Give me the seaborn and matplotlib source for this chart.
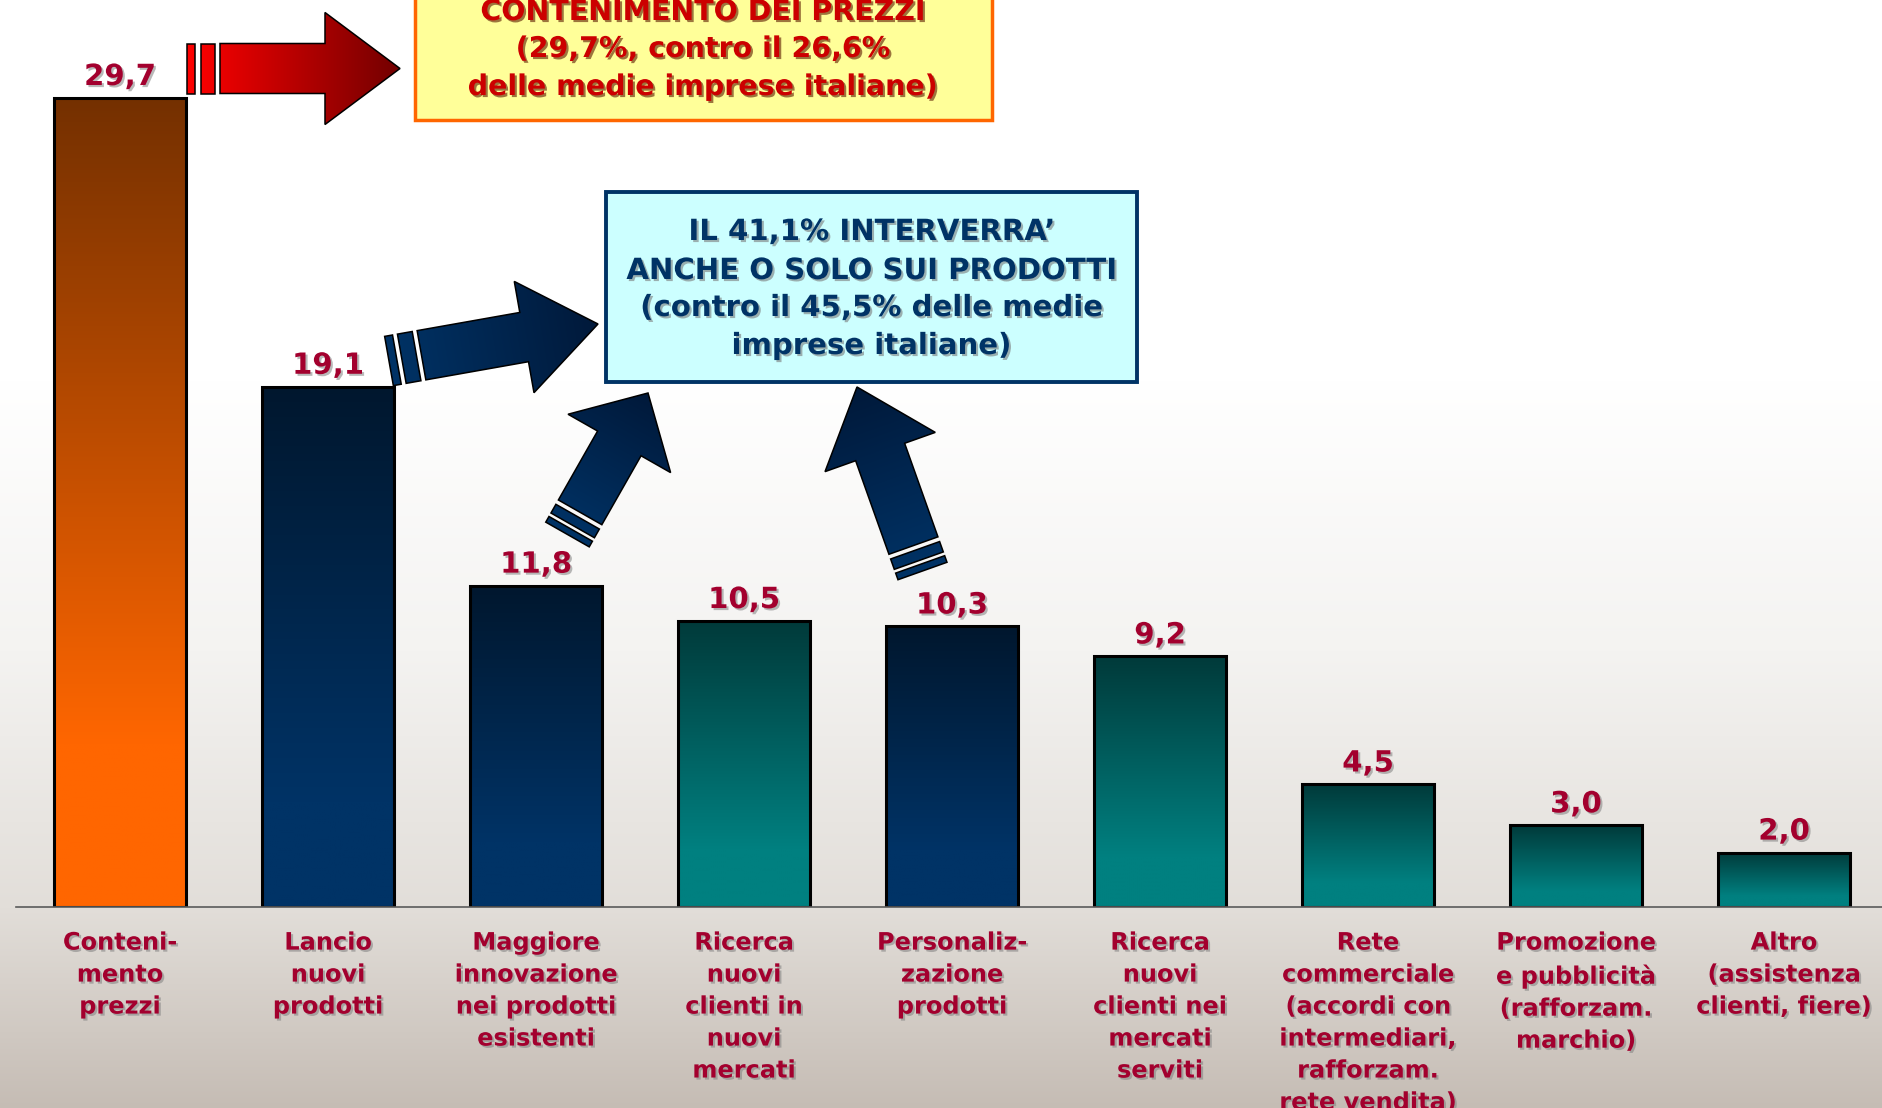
import numpy as np
import pandas as pd
import matplotlib
matplotlib.use("Agg")
import matplotlib.pyplot as plt
import matplotlib.patheffects as pe
from matplotlib.patches import Polygon, Rectangle
from matplotlib.colors import to_rgb
import seaborn as sns

# ---- data -------------------------------------------------------------
categories = [
    "Conteni-\nmento\nprezzi",
    "Lancio\nnuovi\nprodotti",
    "Maggiore\ninnovazione\nnei prodotti\nesistenti",
    "Ricerca\nnuovi\nclienti in\nnuovi\nmercati",
    "Personaliz-\nzazione\nprodotti",
    "Ricerca\nnuovi\nclienti nei\nmercati\nserviti",
    "Rete\ncommerciale\n(accordi con\nintermediari,\nrafforzam.\nrete vendita)",
    "Promozione\ne pubblicità\n(rafforzam.\nmarchio)",
    "Altro\n(assistenza\nclienti, fiere)",
]
values = [29.7, 19.1, 11.8, 10.5, 10.3, 9.2, 4.5, 3.0, 2.0]
groups = ["prezzi", "prodotti", "prodotti", "mercati", "prodotti",
          "mercati", "mercati", "mercati", "mercati"]

box_prezzi = ["CONTENIMENTO DEI PREZZI",
              "(29,7%, contro il 26,6%",
              "delle medie imprese italiane)"]
box_prodotti = ["IL 41,1% INTERVERRA\u2019",
                "ANCHE O SOLO SUI PRODOTTI",
                "(contro il 45,5% delle medie",
                "imprese italiane)"]

# ---- style ------------------------------------------------------------
base_colors = {"prezzi": "#ff6600", "prodotti": "#003366", "mercati": "#008080"}
top_colors = {"prezzi": "#743000", "prodotti": "#00172e", "mercati": "#003a3a"}
label_color = "#a3002e"

sns.set_style("white")
plt.rcParams["font.family"] = ["DejaVu Sans"]

W, H = 1883, 1108
fig = plt.figure(figsize=(W / 100, H / 100), dpi=100)

# page background: white fading to warm grey at the bottom
bg = fig.add_axes([0, 0, 1, 1], zorder=0)
stop_y = [0, 380, 650, 907, 1108]
stop_c = np.array([to_rgb(c) for c in ["#ffffff", "#ffffff", "#f4f3f1", "#e2ded9", "#c5bcb4"]])
rows = np.arange(H)
bg_grad = np.stack([np.interp(rows, stop_y, stop_c[:, k]) for k in range(3)], axis=1)
bg.imshow(bg_grad[:, None, :], aspect="auto", extent=[0, 1, 0, 1], origin="upper")
bg.axis("off")

# ---- bar chart --------------------------------------------------------
base_px = 907
px_per_unit = 27.24
slot = 208
ax = fig.add_axes([16 / W, 1 - base_px / H, 9 * slot / W, base_px / H], zorder=1)
ax.patch.set_alpha(0)

df = pd.DataFrame({"categoria": categories, "valore": values, "gruppo": groups})
sns.barplot(data=df, x="categoria", y="valore", hue="categoria",
            palette=[base_colors[g] for g in groups], legend=False,
            width=0.63, saturation=1, edgecolor="black", linewidth=2.2, ax=ax)

# vertical gradient inside each bar (dark top -> base colour)
for patch, g in zip(ax.patches, groups):
    x0, y0 = patch.get_x(), patch.get_y()
    w, h = patch.get_width(), patch.get_height()
    t = np.linspace(0, 1, 256)
    f = np.clip(t / 0.8, 0, 1)[:, None]
    c_top = np.array(to_rgb(top_colors[g]))
    c_bot = np.array(to_rgb(base_colors[g]))
    col = c_top + (c_bot - c_top) * f
    im = ax.imshow(col[:, None, :], extent=[x0, x0 + w, y0, y0 + h], aspect="auto",
                   origin="upper", interpolation="bilinear", zorder=patch.get_zorder() - 0.01)
    im.set_clip_path(patch)
    patch.set_facecolor("none")

ax.set_xlim(-0.5, 8.5)
ax.set_ylim(0, base_px / px_per_unit)

sns.despine(ax=ax, left=True)
ax.spines["bottom"].set_color("#5a5a5a")
ax.spines["bottom"].set_linewidth(1.2)
ax.set_yticks([])
ax.set_xlabel("")
ax.set_ylabel("")

shadow = [pe.withSimplePatchShadow(offset=(1.5, -1.5), shadow_rgbFace="#808080", alpha=0.55)]

ax.set_xticks(range(len(categories)))
ax.set_xticklabels(categories)
ax.set_xticks(np.arange(-0.5, len(categories), 1.0), minor=True)
ax.tick_params(axis="x", which="major", length=0, pad=17)
ax.tick_params(axis="x", which="minor", length=7, width=1.2, color="#5a5a5a", direction="out")
for lab in ax.get_xticklabels():
    lab.set_fontsize(17.3)
    lab.set_fontweight("bold")
    lab.set_color(label_color)
    lab.set_linespacing(1.42)
    lab.set_verticalalignment("top")
    lab.set_path_effects(shadow)

for i, v in enumerate(values):
    ax.annotate(f"{v:.1f}".replace(".", ","), (i, v), xytext=(0, 5),
                textcoords="offset points", ha="center", va="bottom",
                fontsize=21, fontweight="bold", color=label_color,
                path_effects=shadow, zorder=5)

# ---- callouts (pixel coordinates on a full-figure overlay) ------------
ov = fig.add_axes([0, 0, 1, 1], zorder=3)
ov.axis("off")


def gradient_arrow(tail, tip, body_w, head_w, head_len, stripes, body_start, c0, c1):
    tail = np.asarray(tail, float)
    tip = np.asarray(tip, float)
    d = tip - tail
    L = np.hypot(*d)
    u = d / L
    n = np.array([-u[1], u[0]])

    def pt(s, o):
        return tail + u * s + n * o

    hb, hh, sb = body_w / 2, head_w / 2, L - head_len
    shapes = [[pt(body_start, hb), pt(sb, hb), pt(sb, hh), pt(L, 0),
               pt(sb, -hh), pt(sb, -hb), pt(body_start, -hb)]]
    for a, b in stripes:
        shapes.append([pt(a, hb), pt(b, hb), pt(b, -hb), pt(a, -hb)])

    allpts = np.vstack(shapes)
    xmin, ymin = np.floor(allpts.min(0)) - 2
    xmax, ymax = np.ceil(allpts.max(0)) + 2
    X, Y = np.meshgrid(np.arange(xmin, xmax), np.arange(ymin, ymax))
    t = np.clip(((X - tail[0]) * u[0] + (Y - tail[1]) * u[1]) / L, 0, 1)
    a0, a1 = np.array(to_rgb(c0)), np.array(to_rgb(c1))
    img = a0 + (a1 - a0) * t[..., None]
    for pts in shapes:
        poly = Polygon(pts, closed=True, facecolor="none", edgecolor="black",
                       lw=1.1, joinstyle="miter", zorder=4)
        ov.add_patch(poly)
        im = ov.imshow(img, extent=[xmin, xmax, ymax, ymin], origin="upper",
                       interpolation="bilinear", aspect="auto", zorder=3.9)
        im.set_clip_path(poly)


# yellow note on price containment
ov.add_patch(Rectangle((415, -10), 577, 130, facecolor="#ffff99",
                       edgecolor="#ff6600", lw=2.5, zorder=2))
for txt, yb in zip(box_prezzi, [20, 57, 95]):
    ov.text(703, yb, txt, ha="center", va="baseline", fontsize=20.5,
            fontweight="bold", color="#cc0000", zorder=5,
            path_effects=[pe.withSimplePatchShadow(offset=(1.5, -1.5),
                                                   shadow_rgbFace="#5a1a00", alpha=0.6)])

# cyan note on product interventions
ov.add_patch(Rectangle((606, 192), 531, 190, facecolor="#ccffff",
                       edgecolor="#003366", lw=2.8, zorder=2))
for txt, yb in zip(box_prodotti, [240, 279, 316, 354]):
    ov.text(871.5, yb, txt, ha="center", va="baseline", fontsize=21,
            fontweight="bold", color="#003366", zorder=5,
            path_effects=[pe.withSimplePatchShadow(offset=(1.5, -1.5),
                                                   shadow_rgbFace="#7a7a7a", alpha=0.6)])

navy_tail, navy_tip = "#003366", "#00193a"
gradient_arrow((187, 68.5), (400, 68.5), 50, 112, 75, [(0, 8), (14, 28)], 33,
               "#ff0000", "#720000")
gradient_arrow((389, 361), (598, 324), 50, 113, 75, [(0, 8), (13, 28)], 33,
               navy_tail, navy_tip)
gradient_arrow((567.5, 534.5), (648, 393), 50, 118, 58, [(0, 6.5), (10.5, 20.5)], 25.5,
               navy_tail, navy_tip)
gradient_arrow((922.5, 571), (857, 387), 52, 117, 69, [(0, 7), (11, 22)], 27,
               navy_tail, navy_tip)

ov.set_xlim(0, W)
ov.set_ylim(H, 0)

fig.savefig("out.png", dpi=100)
